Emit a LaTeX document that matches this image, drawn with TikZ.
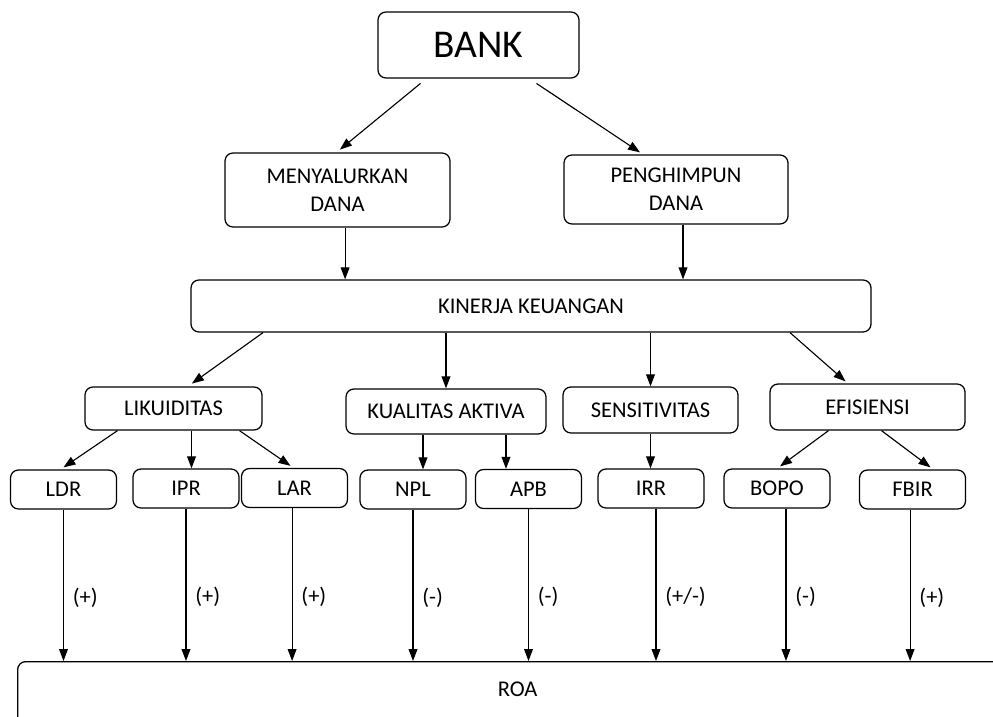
\documentclass[tikz,border=0pt]{standalone}
\usepackage{fontspec}
\setmainfont{Carlito}
\usetikzlibrary{arrows.meta}

\begin{document}
\begin{tikzpicture}[x=0.25mm, y=-0.25mm,
    box/.style={draw, rounded corners=2mm, line width=0.9pt, align=center, inner sep=0pt,
        font=\fontsize{16}{20}\selectfont},
    leaf/.style={box, minimum width=26.5mm, minimum height=9.75mm},
    arr/.style={-{Triangle[length=3mm,width=2.2mm]}, line width=0.8pt},
    sign/.style={font=\fontsize{16}{18}\selectfont, inner sep=2.2mm}]
    \useasboundingbox (0,0) rectangle (993,717);
    \clip (0,0) rectangle (993,717);

    \node (bank) [box, minimum width=50.25mm, minimum height=16.5mm,
        font=\fontsize{28}{34}\selectfont] at (478.5,45) {BANK};
    \node (menyalurkan) [box, minimum width=56.25mm, minimum height=18.5mm] at (337.5,190) {MENYALURKAN\\DANA};
    \node (penghimpun) [box, minimum width=56mm, minimum height=17.25mm] at (676,189.5) {PENGHIMPUN\\DANA};
    \node (kinerja) [box, minimum width=170mm, minimum height=13mm] at (531,306) {KINERJA KEUANGAN};

    \node (likuiditas) [box, minimum width=44.25mm, minimum height=10.75mm] at (173.5,408.5) {LIKUIDITAS};
    \node (kualitas) [box, minimum width=50mm, minimum height=11.25mm] at (446,411.5) {KUALITAS AKTIVA};
    \node (sensitivitas) [box, minimum width=43.75mm, minimum height=11.5mm] at (650.5,410) {SENSITIVITAS};
    \node (efisiensi) [box, minimum width=48.75mm, minimum height=11.5mm] at (867.5,407) {EFISIENSI};

    \node (ldr) [leaf] at (63.5,489.5) {LDR};
    \node (ipr) [leaf] at (186,488.5) {IPR};
    \node (lar) [leaf] at (294.5,488) {LAR};
    \node (npl) [leaf] at (413,489.5) {NPL};
    \node (apb) [leaf] at (528.5,489) {APB};
    \node (irr) [leaf] at (651,488.5) {IRR};
    \node (bopo) [leaf] at (777,488.5) {BOPO};
    \node (fbir) [leaf] at (912.5,489.5) {FBIR};

    \node (roa) [box, anchor=north west, minimum width=250mm, inner ysep=5mm, text depth=20mm] at (17,661) {ROA};

    % bank
    \draw[arr] ([xshift=-14.5mm,yshift=-1.2mm]bank.south) -- ([xshift=0.6mm,yshift=0.7mm]menyalurkan.north);
    \draw[arr] ([xshift=14.5mm,yshift=-1.2mm]bank.south) -- ([xshift=-9mm,yshift=0.5mm]penghimpun.north);
    \draw[arr] ([xshift=1.9mm]menyalurkan.south) -- ([xshift=1.9mm]menyalurkan.south |- kinerja.north);
    \draw[arr] ([xshift=1.75mm]penghimpun.south) -- ([xshift=1.75mm]penghimpun.south |- kinerja.north);

    % kinerja
    \draw[arr] ([xshift=-67mm]kinerja.south) -- ([xshift=4.6mm,yshift=0.7mm]likuiditas.north);
    \draw[arr] (kinerja.south -| kualitas.north) -- (kualitas.north);
    \draw[arr] (kinerja.south -| sensitivitas.north) -- (sensitivitas.north);
    \draw[arr] ([xshift=64.75mm]kinerja.south) -- ([xshift=-5.5mm,yshift=0.5mm]efisiensi.north);

    % rasio
    \draw[arr] ([xshift=-14mm]likuiditas.south) -- ([yshift=0.5mm]ldr.north);
    \draw[arr] ([xshift=4.5mm]likuiditas.south) -- ([xshift=4.5mm]likuiditas.south |- ipr.north);
    \draw[arr] ([xshift=16.5mm]likuiditas.south) -- ([xshift=-1mm,yshift=0.5mm]lar.north);
    \draw[arr] ([xshift=-5.75mm]kualitas.south) -- ([xshift=-5.75mm]kualitas.south |- npl.north);
    \draw[arr] ([xshift=15mm]kualitas.south) -- ([xshift=15mm]kualitas.south |- apb.north);
    \draw[arr] (sensitivitas.south) -- (sensitivitas.south |- irr.north);
    \draw[arr] ([xshift=-9.75mm]efisiensi.south) -- ([xshift=0.75mm,yshift=0.5mm]bopo.north);
    \draw[arr] ([xshift=3.5mm]efisiensi.south) -- ([xshift=4.5mm,yshift=0.5mm]fbir.north);

    % roa
    \draw[arr] (ldr) -- (ldr |- roa.north) node[sign, pos=.58, right] {(+)};
    \draw[arr] (ipr) -- (ipr |- roa.north) node[sign, pos=.58, right] {(+)};
    \draw[arr] ([xshift=-0.6mm]lar.south) -- ([xshift=-0.6mm]lar.south |- roa.north) node[sign, pos=.58, right] {(+)};
    \draw[arr] (npl) -- (npl |- roa.north) node[sign, pos=.58, right] {(-)};
    \draw[arr] (apb) -- (apb |- roa.north) node[sign, pos=.58, right] {(-)};
    \draw[arr] ([xshift=1.25mm]irr.south) -- ([xshift=1.25mm]irr.south |- roa.north) node[sign, pos=.58, right] {(+/-)};
    \draw[arr] ([xshift=2.25mm]bopo.south) -- ([xshift=2.25mm]bopo.south |- roa.north) node[sign, pos=.58, right] {(-)};
    \draw[arr] ([xshift=-0.6mm]fbir.south) -- ([xshift=-0.6mm]fbir.south |- roa.north) node[sign, pos=.58, right] {(+)};
\end{tikzpicture}
\end{document}
